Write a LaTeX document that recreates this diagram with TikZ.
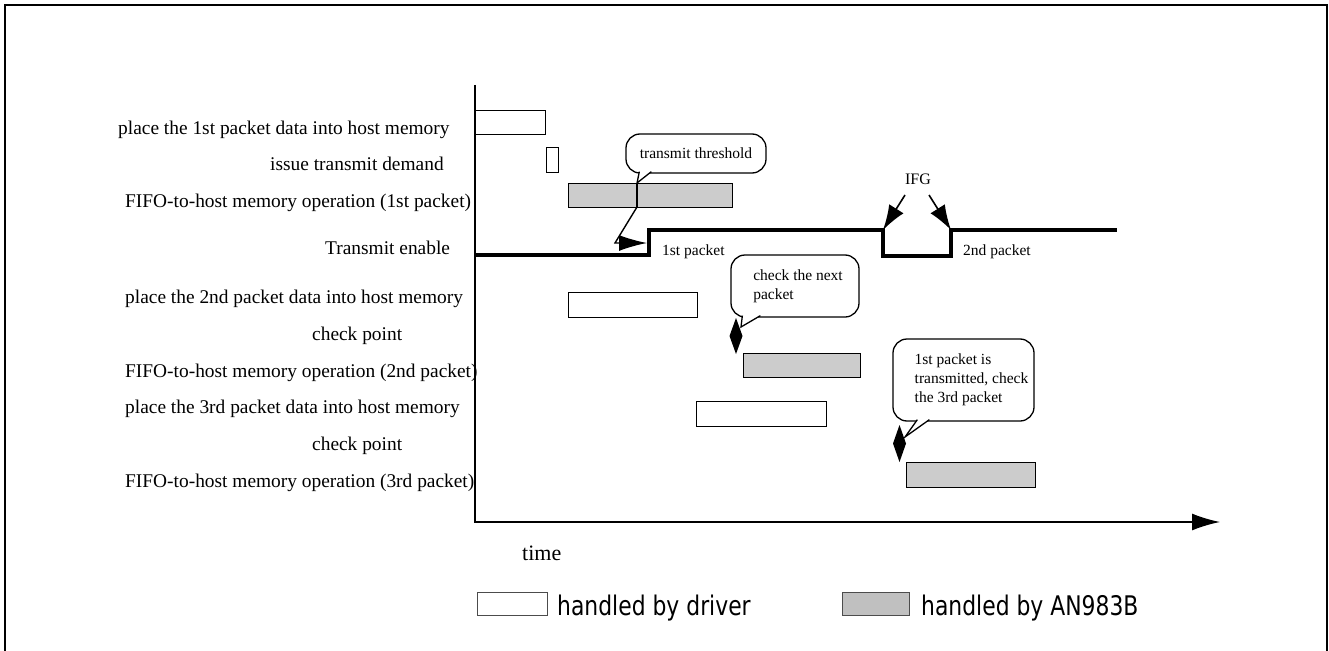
\documentclass[tikz,border=0pt]{standalone}
\usepackage{fontspec}
\setmainfont{Liberation Serif}
\newfontfamily\legendfont[FakeStretch=0.81]{DejaVu Sans}
\usetikzlibrary{arrows.meta}
\definecolor{barfill}{HTML}{CCCCCC}
\definecolor{keyfill}{HTML}{C0C0C0}
\tikzset{
    drvbox/.style={draw, fill=white, line width=1.4pt, inner sep=0pt, anchor=north west},
    chipbox/.style={drvbox, fill=barfill},
    rowtxt/.style={anchor=base west, inner sep=0pt, font=\fontsize{19.4}{22}\selectfont},
    smalltxt/.style={anchor=base west, inner sep=0pt, font=\fontsize{15.5}{19}\selectfont},
    bubble/.style={draw, fill=white, rounded corners=14pt, line width=1.3pt, align=left, inner sep=0pt, font=\fontsize{15.5}{19}\selectfont},
    bubline/.style={line width=1.3pt, fill=white},
    sig/.style={line width=4pt},
    legtxt/.style={anchor=base west, inner sep=0pt, font=\legendfont\fontsize{27}{30}\selectfont},
}
\begin{document}
\begin{tikzpicture}[x=1pt, y=-1pt]
    \useasboundingbox (0,0) rectangle (1329,650);
    \draw[line width=1.5pt] (5,652) -- (5,5) -- (1327,5) -- (1327,652);
    % axes
    \coordinate (top) at (475,85);
    \coordinate (org) at (475,522);
    \coordinate (far) at (1220,522);
    \draw[line width=1.6pt, -{Latex[length=28pt,width=17pt]}] (top) -- (org) -- (far);
    \node[anchor=base west, inner sep=0pt, font=\fontsize{22}{26}\selectfont] (time) at (522,560) {time};
    % row labels
    \foreach \n/\x/\y/\txt in {1/118/134/place the 1st packet data into host memory,
        2/270/170/issue transmit demand,
        3/125/207/FIFO-to-host memory operation (1st packet),
        4/325/254/Transmit enable,
        5/125/303/place the 2nd packet data into host memory,
        6/312/340/check point,
        7/125/377/FIFO-to-host memory operation (2nd packet),
        8/125/413/place the 3rd packet data into host memory,
        9/312/450/check point,
        10/125/487/FIFO-to-host memory operation (3rd packet)}
        \node[rowtxt] (row\n) at (\x,\y) {\txt};
    % bars
    \node[drvbox, minimum width=70pt, minimum height=24pt] (put1) at (475,110) {};
    \node[drvbox, minimum width=12pt, minimum height=25pt] (go) at (546,147) {};
    \node[chipbox, minimum width=164pt, minimum height=24pt] (dma1) at (568,183) {};
    \coordinate (thrtop) at (637,183);
    \coordinate (thrbot) at (637,207);
    \draw[line width=1.4pt] (thrtop) -- (thrbot);
    \node[drvbox, minimum width=129pt, minimum height=25pt] (put2) at (568,292) {};
    \node[chipbox, minimum width=117pt, minimum height=24pt] (dma2) at (743,353) {};
    \node[drvbox, minimum width=130pt, minimum height=25pt] (put3) at (696,401) {};
    \node[chipbox, minimum width=129pt, minimum height=25pt] (dma3) at (906,462) {};
    % transmit enable
    \draw[sig] (475,255) -- (649,255) coordinate (rise1) -- (649,230) -- (883,230) coordinate (fall)
        -- (883,256) -- (951,256) -- (951,230) coordinate (rise2) -- (1117,230);
    \node[smalltxt] (pk1) at (662,255) {1st packet};
    \node[smalltxt] (pk2) at (963,255) {2nd packet};
    \coordinate (bend) at (615,243);
    \coordinate (hit) at (647,243);
    \draw[line width=1.4pt, -{Latex[length=28pt,width=16pt]}] (thrbot) -- (bend) -- (hit);
    \node[anchor=base, inner sep=0pt, font=\fontsize{16}{19}\selectfont] (ifg) at (918,184) {IFG};
    \coordinate (ifgl) at (905,195);
    \coordinate (ifgr) at (929,195);
    \draw[line width=1.6pt, -{Latex[length=25pt,width=17pt]}] (ifgl) -- (fall);
    \draw[line width=1.6pt, -{Latex[length=25pt,width=17pt]}] (ifgr) -- (rise2);
    % callouts
    \node[bubble, minimum width=140pt, minimum height=39pt] (thr) at (696,153.5) {transmit threshold};
    \draw[bubline] ([xshift=14pt,yshift=2pt]thr.south west) -- (thrtop) -- ([xshift=26pt,yshift=2pt]thr.south west);
    \node[bubble, minimum width=128pt, minimum height=62pt] (nxt) at (795,286) {\hspace*{6pt}check the next\\\hspace*{6pt}packet};
    \coordinate (tip2) at (741,327);
    \draw[bubline] ([xshift=12pt,yshift=2pt]nxt.south west) -- (tip2) -- ([xshift=30pt,yshift=2pt]nxt.south west);
    \node[bubble, minimum width=141pt, minimum height=82pt] (sent) at (963.5,380) {\hspace*{16pt}1st packet is\\\hspace*{16pt}transmitted, check\\\hspace*{16pt}the 3rd packet};
    \coordinate (tip3) at (905,437);
    \draw[bubline] ([xshift=25pt,yshift=2pt]sent.south west) -- (tip3) -- ([xshift=37pt,yshift=2pt]sent.south west);
    % check points
    \fill (736,318) -- (742.5,336) -- (736,354) -- (729.5,336) -- cycle;
    \fill (899.5,425) -- (906,443.5) -- (899.5,462) -- (893,443.5) -- cycle;
    % legend
    \node[drvbox, line width=1pt, draw=black!70, minimum width=70pt, minimum height=23pt] (keydrv) at (477,592) {};
    \node[legtxt] (keydrvtxt) at (557,615) {handled by driver};
    \node[chipbox, line width=1pt, draw=black!70, fill=keyfill, minimum width=67pt, minimum height=23pt] (keychip) at (842,592) {};
    \node[legtxt] (keychiptxt) at (921,615) {handled by AN983B};
\end{tikzpicture}
\end{document}
